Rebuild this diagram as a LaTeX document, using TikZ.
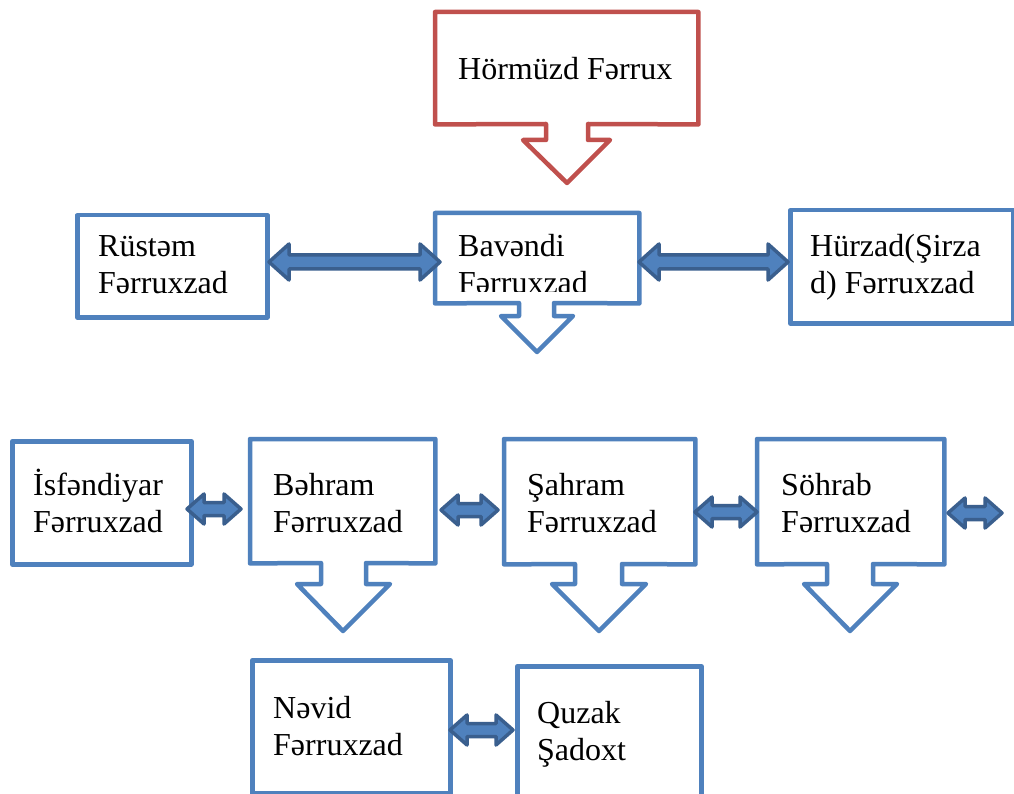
\documentclass[tikz,border=0pt]{standalone}
\usepackage{fontspec}
\setmainfont{Liberation Serif}
\definecolor{boxblue}{HTML}{4F81BD}
\definecolor{boxred}{HTML}{C0504D}
\definecolor{arrowdark}{HTML}{3A5F8E}
\tikzset{
  boxline/.style={draw=boxblue, line width=4.5pt, line join=round},
  redline/.style={draw=boxred, line width=4.5pt, line join=round},
  plainbox/.style={boxline, rectangle, inner sep=0pt, anchor=north west},
  hidbox/.style={rectangle, inner sep=0pt, anchor=north west},
  lbl/.style={anchor=base west, inner sep=0pt, font=\fontsize{32}{37}\selectfont},
  dbl/.style={fill=boxblue, draw=arrowdark, line width=3.5pt, line join=round},
}
% double arrow: x1, x2, y, head half-height, shaft half-height, head length
\newcommand\dblarr[6]{%
  \draw[dbl] (#1,#3) -- (#1+#6,#3-#4) -- (#1+#6,#3-#5) -- (#2-#6,#3-#5) -- (#2-#6,#3-#4)
    -- (#2,#3) -- (#2-#6,#3+#4) -- (#2-#6,#3+#5) -- (#1+#6,#3+#5) -- (#1+#6,#3+#4) -- cycle;}
\begin{document}
\begin{tikzpicture}[x=1pt,y=-1pt]
\clip (0,0) rectangle (1014,794);
\fill[white] (0,0) rectangle (1014,794);

% ---- Hörmüzd (red callout)
\node[hidbox, minimum width=263pt, minimum height=112pt] (horm) at (435,12) {};
\draw[redline] (horm.north west) -- (horm.north east) -- (horm.south east) -- (588,124)
  -- (588,140) -- (610,140) -- (567,183) -- (523,140) -- (546,140) -- (546,124)
  -- (horm.south west) -- cycle;
\node[lbl] (thorm) at (458,80) {Hörmüzd Fərrux};

% ---- row 1
\node[plainbox, minimum width=190pt, minimum height=102pt] (rus) at (75,213) {};
\node[lbl] (trus1) at (98,257) {Rüstəm};
\node[lbl] (trus2) at (98,294) {Fərruxzad};

\node[hidbox, minimum width=204pt, minimum height=90pt] (bav) at (435,213) {};
\draw[boxline] (bav.north west) -- (bav.north east) -- (bav.south east) -- (554,303)
  -- (554,316) -- (573,316) -- (537,352) -- (501,316) -- (519,316) -- (519,303)
  -- (bav.south west) -- cycle;
\begin{scope}
  \clip (437,215) rectangle (637,291);
  \node[lbl] (tbav1) at (458,257) {Bavəndi};
  \node[lbl] (tbav2) at (458,294) {Fərruxzad};
\end{scope}

\node[plainbox, minimum width=223pt, minimum height=113pt] (hur) at (788,208) {};
\node[lbl] (thur1) at (810,257) {Hürzad(Şirza};
\node[lbl] (thur2) at (810,294) {d) Fərruxzad};

\dblarr{269}{440}{262}{18}{7}{20}
\dblarr{639}{788}{262}{18}{7}{20}

% ---- row 2
\node[plainbox, minimum width=179pt, minimum height=123pt] (isf) at (10,439) {};
\node[lbl] (tisf1) at (33,495) {İsfəndiyar};
\node[lbl] (tisf2) at (33,532) {Fərruxzad};

\node[hidbox, minimum width=185pt, minimum height=124pt] (beh) at (250,439) {};
\draw[boxline] (beh.north west) -- (beh.north east) -- (beh.south east) -- (366,563)
  -- (366,584) -- (390,584) -- (343,631) -- (297,584) -- (321,584) -- (321,563)
  -- (beh.south west) -- cycle;
\node[lbl] (tbeh1) at (273,495) {Bəhram};
\node[lbl] (tbeh2) at (273,532) {Fərruxzad};

\node[hidbox, minimum width=191pt, minimum height=125pt] (sah) at (504,439) {};
\draw[boxline] (sah.north west) -- (sah.north east) -- (sah.south east) -- (622,564)
  -- (622,584) -- (646,584) -- (599,631) -- (552,584) -- (575,584) -- (575,564)
  -- (sah.south west) -- cycle;
\node[lbl] (tsah1) at (527,495) {Şahram};
\node[lbl] (tsah2) at (527,532) {Fərruxzad};

\node[hidbox, minimum width=187pt, minimum height=125pt] (soh) at (757,439) {};
\draw[boxline] (soh.north west) -- (soh.north east) -- (soh.south east) -- (873,564)
  -- (873,584) -- (897,584) -- (850,631) -- (804,584) -- (827,584) -- (827,564)
  -- (soh.south west) -- cycle;
\node[lbl] (tsoh1) at (781,495) {Söhrab};
\node[lbl] (tsoh2) at (781,532) {Fərruxzad};

\dblarr{187}{241}{509}{15}{6.5}{17}
\dblarr{441}{498}{510}{15}{6.5}{17}
\dblarr{695}{757}{512}{15}{6.5}{17}
\dblarr{948}{1002}{513}{15}{6.5}{17}

% ---- row 3
\node[plainbox, minimum width=198pt, minimum height=133pt] (nev) at (250,658) {};
\node[lbl] (tnev1) at (273,718) {Nəvid};
\node[lbl] (tnev2) at (273,755) {Fərruxzad};

\node[plainbox, minimum width=184pt, minimum height=150pt] (quz) at (515,664) {};
\node[lbl] (tquz1) at (537,723) {Quzak};
\node[lbl] (tquz2) at (537,760) {Şadoxt};

\dblarr{450}{513}{730}{15}{6.5}{17}
\end{tikzpicture}
\end{document}
